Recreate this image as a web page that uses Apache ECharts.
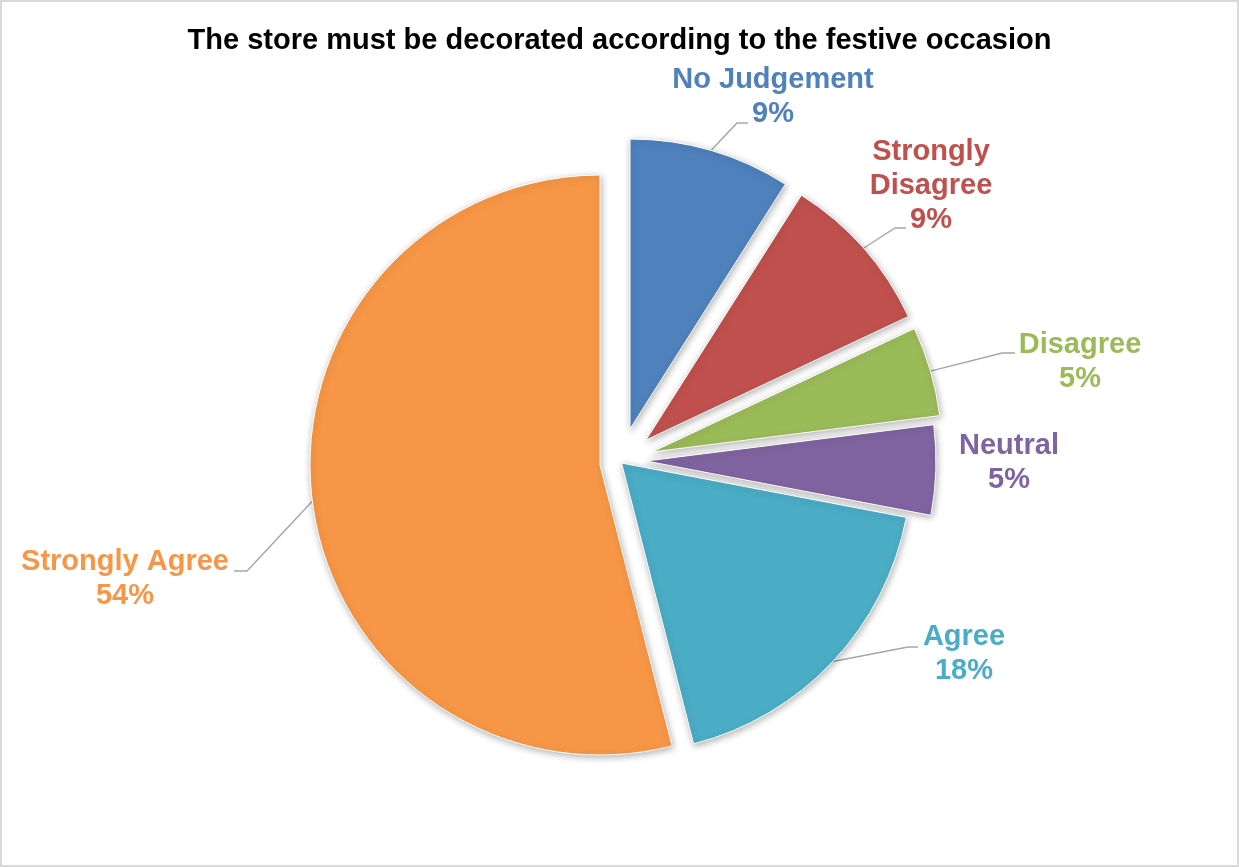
<!DOCTYPE html>
<html>
<head>
<meta charset="utf-8">
<title>The store must be decorated according to the festive occasion</title>
<script src="https://cdn.jsdelivr.net/npm/echarts@6.0.0/dist/echarts.min.js"></script>
<style>
  html, body { margin: 0; padding: 0; background: #ffffff; }
  #chart { width: 1239px; height: 867px; }
</style>
</head>
<body>
<div id="chart"></div>
<script>
// Survey answers, clockwise from 12 o'clock
const categories = ['No Judgement', 'Strongly Disagree', 'Disagree', 'Neutral', 'Agree', 'Strongly Agree'];
const shares = [9, 9, 5, 5, 18, 54];
const colors = ['#4F81BD', '#C0504D', '#9BBB59', '#8064A2', '#4BACC6', '#F79646'];
const labelNames = ['No Judgement', 'Strongly\nDisagree', 'Disagree', 'Neutral', 'Agree', 'Strongly Agree'];

// Pie geometry: base centre, radius and how far each wedge is pulled out
const BASE = [600, 465];
const RADIUS = 290;
const explode = [[30, -36], [46, -25], [52, -13], [46, -4], [21.5, -2], [0, 0]];

// Label block centres and leader-line elbows (null = no leader line)
const labelSpots = [
  { x: 773, y: 97, bend: [737, 123], end: [748, 123] },
  { x: 931, y: 186, bend: [895, 228], end: [906, 228] },
  { x: 1080, y: 362, bend: [1002, 353], end: [1015, 353] },
  { x: 1009, y: 463, bend: null, end: null },
  { x: 964, y: 654, bend: [908, 647], end: [918, 647] },
  { x: 125, y: 579, bend: [247, 571], end: [234, 571] }
];

const FONT = "'Liberation Sans', Arial, Helvetica, sans-serif";

// One pie per wedge so every wedge can sit at its own offset; angles come
// from the full data set, only the wedge owned by the series is painted.
const series = categories.map(function (cat, k) {
  return {
    type: 'pie',
    name: cat,
    center: [BASE[0] + explode[k][0], BASE[1] + explode[k][1]],
    radius: RADIUS,
    startAngle: 90,
    clockwise: true,
    avoidLabelOverlap: false,
    silent: true,
    animation: false,
    z: 2,
    label: {
      show: true,
      position: 'outside',
      fontFamily: FONT,
      fontSize: 29,
      fontWeight: 'bold',
      lineHeight: 34,
      align: 'center',
      formatter: function (p) {
        return labelNames[p.dataIndex] + '\n' + Math.round(p.percent) + '%';
      }
    },
    labelLine: {
      show: true,
      lineStyle: { color: '#A6A6A6', width: 1.4 }
    },
    labelLayout: function (p) {
      const spot = labelSpots[p.seriesIndex];
      const out = { x: spot.x, y: spot.y, align: 'center', verticalAlign: 'middle' };
      if (spot.bend && p.labelLinePoints) {
        out.labelLinePoints = [p.labelLinePoints[0], spot.bend, spot.end];
      }
      return out;
    },
    data: categories.map(function (c, i) {
      const own = i === k;
      return {
        name: c,
        value: shares[i],
        itemStyle: own ? {
          color: colors[i],
          borderColor: '#ffffff',
          borderWidth: 1,
          shadowBlur: 7,
          shadowColor: 'rgba(0,0,0,0.3)',
          shadowOffsetX: 1,
          shadowOffsetY: 2
        } : {
          color: 'rgba(0,0,0,0)',
          borderWidth: 0,
          shadowBlur: 0
        },
        label: { show: own, color: colors[i] },
        labelLine: { show: own && labelSpots[i].bend !== null }
      };
    })
  };
});

const chart = echarts.init(document.getElementById('chart'), null, { renderer: 'canvas' });
chart.setOption({
  backgroundColor: '#ffffff',
  animation: false,
  title: {
    text: 'The store must be decorated according to the festive occasion',
    left: 'center',
    top: 21,
    textStyle: {
      fontFamily: FONT,
      fontSize: 29,
      fontWeight: 'bold',
      color: '#000000'
    }
  },
  graphic: [{
    type: 'rect',
    z: 100,
    silent: true,
    shape: { x: 1, y: 1, width: 1237, height: 865 },
    style: { fill: 'none', stroke: '#D9D9D9', lineWidth: 2 }
  }],
  series: series
});
</script>
</body>
</html>
